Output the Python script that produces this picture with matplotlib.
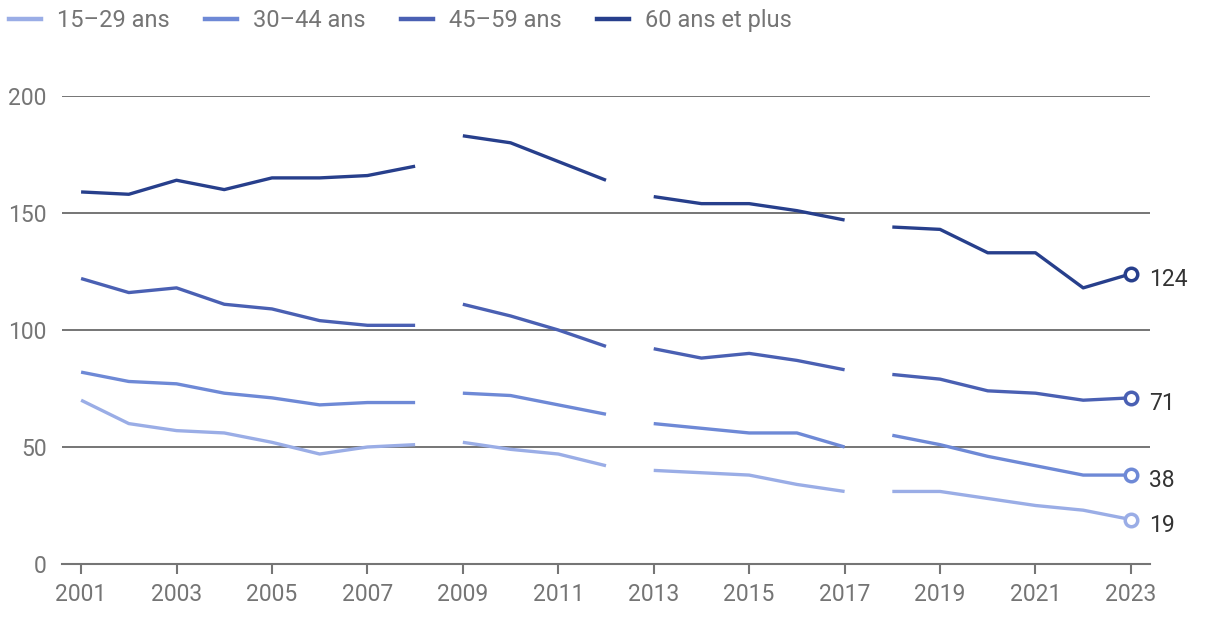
import numpy as np
import matplotlib
matplotlib.use("Agg")
import matplotlib.pyplot as plt
from matplotlib.lines import Line2D

plt.rcParams['font.family'] = ['Roboto', 'DejaVu Sans']

years = list(range(2001, 2024))
# breaks in the series: each tuple is (first year, last year) of a drawn segment
segments = [(2001, 2008), (2009, 2012), (2013, 2017), (2018, 2023)]

labels = ["15\u201329 ans", "30\u201344 ans", "45\u201359 ans", "60 ans et plus"]
colors = ["#9aade6", "#6e89d6", "#4a60b3", "#273f8c"]

age_15_29 = [70, 60, 57, 56, 52, 47, 50, 51, 52, 49, 47, 42, 40, 39, 38, 34, 31, 31, 31, 28, 25, 23, 19]
age_30_44 = [82, 78, 77, 73, 71, 68, 69, 69, 73, 72, 68, 64, 60, 58, 56, 56, 50, 55, 51, 46, 42, 38, 38]
age_45_59 = [122, 116, 118, 111, 109, 104, 102, 102, 111, 106, 100, 93, 92, 88, 90, 87, 83, 81, 79, 74, 73, 70, 71]
age_60_plus = [159, 158, 164, 160, 165, 165, 166, 170, 183, 180, 172, 164, 157, 154, 154, 151, 147, 144, 143, 133, 133, 118, 124]

series = [age_15_29, age_30_44, age_45_59, age_60_plus]

fig = plt.figure(figsize=(12.2, 6.24), dpi=100)
ax = fig.add_axes([62 / 1220, 1 - 564 / 624, (1150 - 62) / 1220, (564 - 96) / 624])

grey = "#757575"

for vals, col in zip(series, colors):
    for a, b in segments:
        i0, i1 = years.index(a), years.index(b) + 1
        ax.plot(years[i0:i1], vals[i0:i1], color=col, lw=2.4,
                solid_capstyle='butt', zorder=3)
    ax.plot(years[-1], vals[-1], marker='o', ms=9, mfc='white', mec=col,
            mew=2.5, zorder=4, clip_on=False)
    ax.annotate(str(vals[-1]), (years[-1], vals[-1]), xytext=(13, -4),
                textcoords='offset points', ha='left', va='center',
                fontsize=16.5, color="#333333")

ax.set_xlim(2000.6, 2023.4)
ax.set_ylim(0, 200)
ax.set_yticks([0, 50, 100, 150, 200])
ax.set_xticks(list(range(2001, 2024, 2)))
for y in [50, 100, 150, 200]:
    ax.axhline(y, color=grey, lw=1.4, zorder=1)

for s in ['top', 'right', 'left']:
    ax.spines[s].set_visible(False)
ax.spines['bottom'].set_color(grey)
ax.spines['bottom'].set_linewidth(1.5)
ax.tick_params(axis='x', colors=grey, labelsize=16.5, length=7, width=1.5, pad=7)
ax.tick_params(axis='y', colors=grey, labelsize=16.5, length=0, pad=11)

handles = [Line2D([], [], color=c, lw=3.2) for c in colors]
leg = fig.legend(handles, labels, loc='upper left', bbox_to_anchor=(0.0, 1.0),
                 ncol=4, frameon=False, fontsize=17, handlelength=1.35,
                 handletextpad=0.68, columnspacing=1.5, borderaxespad=0.1,
                 borderpad=0.3)
for t in leg.get_texts():
    t.set_color(grey)

fig.savefig("out.png", dpi=100)
